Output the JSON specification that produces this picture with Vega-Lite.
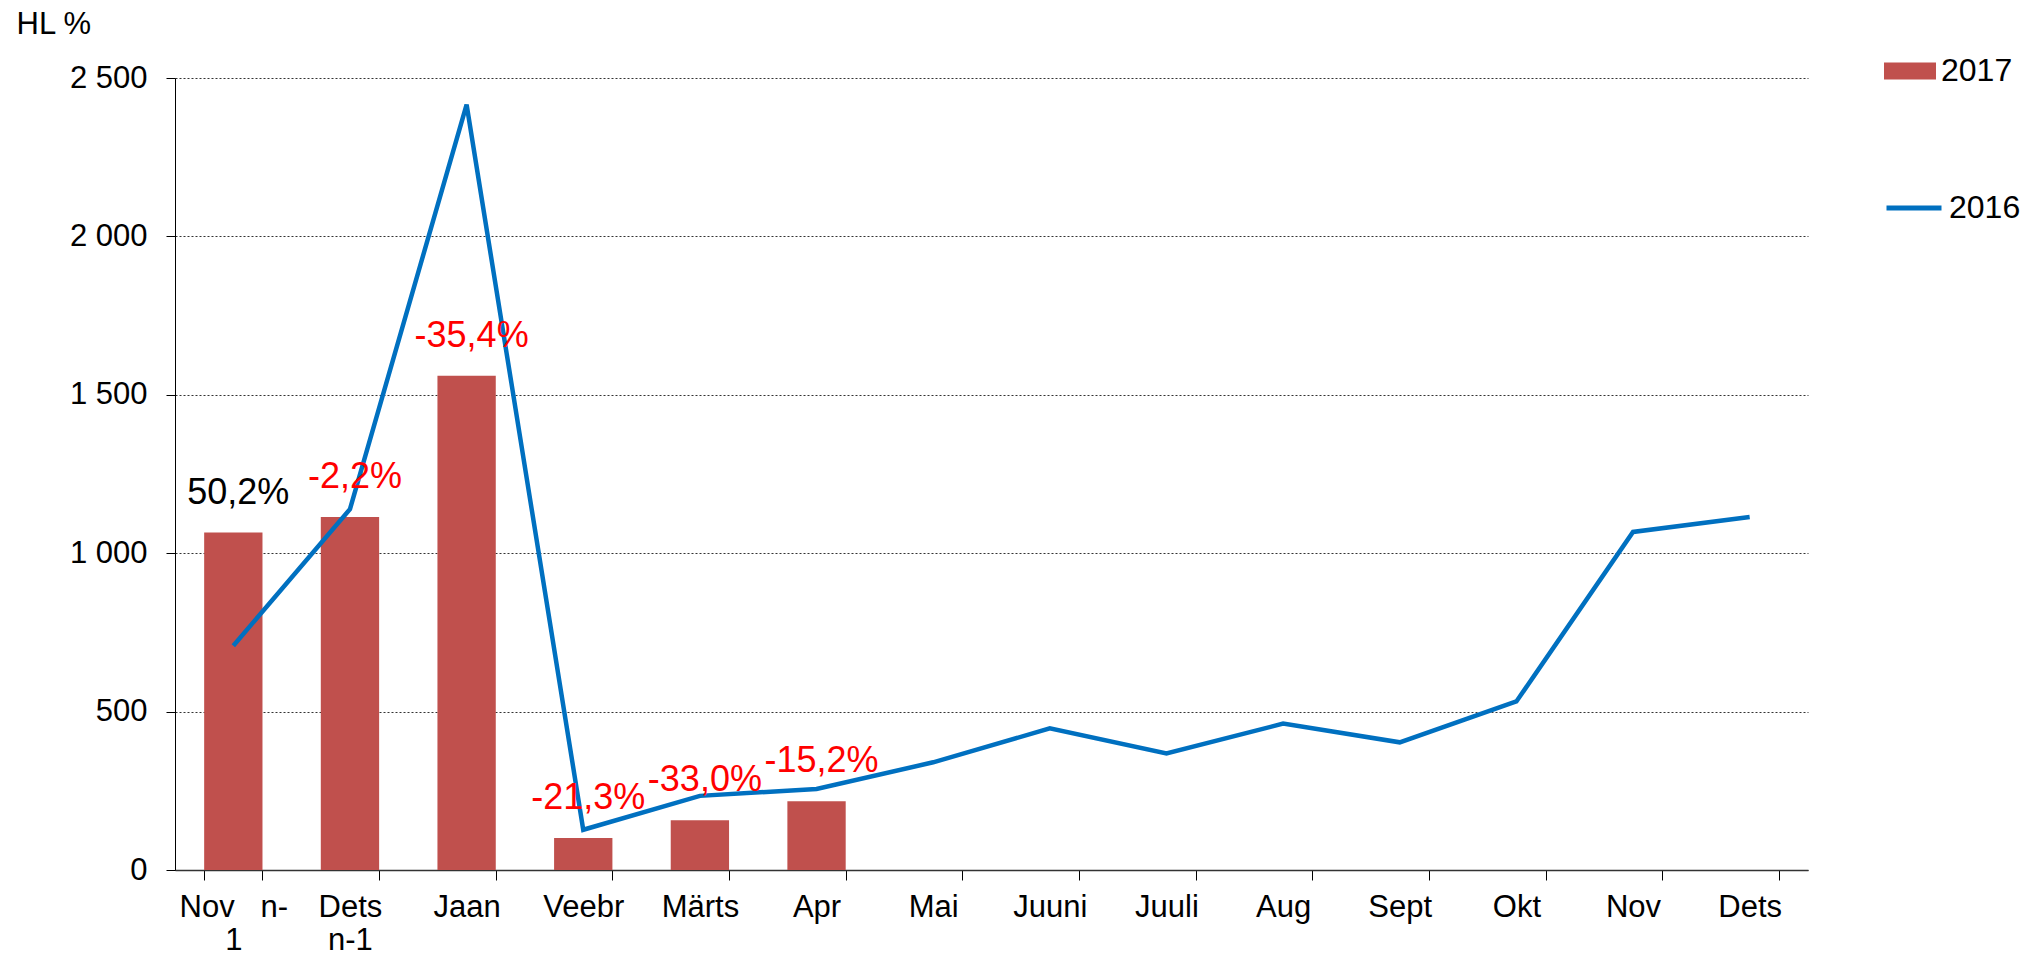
{
  "$schema": "https://vega.github.io/schema/vega-lite/v6.json",
  "width": 1633,
  "height": 792,
  "autosize": {"type": "none"},
  "padding": {"left": 175, "top": 78, "right": 223, "bottom": 88},
  "background": "white",
  "config": {
    "font": "Liberation Sans",
    "view": {"stroke": null},
    "axis": {"labelFont": "Liberation Sans", "titleFont": "Liberation Sans", "labelColor": "#000", "titleColor": "#000"},
    "legend": {"labelFont": "Liberation Sans", "labelColor": "#000"}
  },
  "data": {
    "values": [
      {"month": "Nov n-1", "v2016": 708, "v2017": 1065, "label": "50,2%"},
      {"month": "Dets n-1", "v2016": 1139, "v2017": 1114, "label": "-2,2%"},
      {"month": "Jaan", "v2016": 2416, "v2017": 1560, "label": "-35,4%"},
      {"month": "Veebr", "v2016": 127, "v2017": 101, "label": "-21,3%"},
      {"month": "Märts", "v2016": 234, "v2017": 157, "label": "-33,0%"},
      {"month": "Apr", "v2016": 256, "v2017": 217, "label": "-15,2%"},
      {"month": "Mai", "v2016": 340, "v2017": null, "label": null},
      {"month": "Juuni", "v2016": 447, "v2017": null, "label": null},
      {"month": "Juuli", "v2016": 368, "v2017": null, "label": null},
      {"month": "Aug", "v2016": 462, "v2017": null, "label": null},
      {"month": "Sept", "v2016": 403, "v2017": null, "label": null},
      {"month": "Okt", "v2016": 532, "v2017": null, "label": null},
      {"month": "Nov", "v2016": 1067, "v2017": null, "label": null},
      {"month": "Dets", "v2016": 1114, "v2017": null, "label": null}
    ]
  },
  "encoding": {
    "x": {
      "field": "month",
      "type": "nominal",
      "sort": null,
      "scale": {
        "domain": ["Nov n-1", "Dets n-1", "Jaan", "Veebr", "Märts", "Apr", "Mai", "Juuni", "Juuli", "Aug", "Sept", "Okt", "Nov", "Dets"],
        "paddingInner": 0.5,
        "paddingOuter": 0.25
      },
      "axis": {
        "title": null,
        "labelAngle": 0,
        "labelFontSize": 31,
        "labelPadding": 12,
        "labelLineHeight": 33,
        "tickSize": 10,
        "tickColor": "#000",
        "tickBand": "extent",
        "domainColor": "#333",
        "domainWidth": 1.5,
        "grid": false,
        "labelExpr": "datum.value == 'Nov n-1' ? ['Nov\u00a0\u00a0\u00a0n-', '1'] : datum.value == 'Dets n-1' ? ['Dets', 'n-1'] : datum.value"
      }
    }
  },
  "layer": [
    {
      "transform": [{"filter": "isValid(datum.v2017)"}],
      "mark": {"type": "bar", "color": "#C0504D"},
      "encoding": {
        "y": {
          "field": "v2017",
          "type": "quantitative",
          "title": "HL %",
          "scale": {"domain": [0, 2500], "nice": false},
          "axis": {
            "values": [0, 500, 1000, 1500, 2000, 2500],
            "labelExpr": "replace(format(datum.value, ','), ',', ' ')",
            "labelFontSize": 31,
            "labelPadding": 19,
            "tickSize": 9,
            "tickColor": "#000",
            "domainColor": "#000",
            "grid": true,
            "gridDash": [2, 2],
            "gridColor": "#333",
            "gridWidth": 1,
            "titleAngle": 0,
            "titleAlign": "left",
            "titleBaseline": "alphabetic",
            "titleX": -159,
            "titleY": -45,
            "titleFontSize": 31,
            "titleFontWeight": "normal"
          }
        },
        "color": {
          "datum": "2017",
          "type": "nominal",
          "scale": {"range": ["#C0504D"]},
          "legend": {
            "orient": "none",
            "legendX": 1709,
            "legendY": -33,
            "title": null,
            "padding": 0,
            "symbolType": "M-1,-0.33H1V0.33H-1Z",
            "symbolSize": 2704,
            "symbolStrokeWidth": 0,
            "symbolOpacity": 1,
            "labelFontSize": 32,
            "labelOffset": 5
          }
        }
      }
    },
    {
      "mark": {"type": "line", "strokeWidth": 4.5, "color": "#0070C0"},
      "encoding": {
        "y": {"field": "v2016", "type": "quantitative", "title": "HL %"},
        "color": {
          "datum": "2016",
          "type": "nominal",
          "scale": {"range": ["#0070C0"]},
          "legend": {
            "orient": "none",
            "legendX": 1709,
            "legendY": 100,
            "title": null,
            "padding": 0,
            "symbolType": "stroke",
            "symbolSize": 3025,
            "symbolStrokeWidth": 5,
            "labelFontSize": 32,
            "labelOffset": 5
          }
        }
      }
    },
    {
      "transform": [{"filter": "isValid(datum.label)"}],
      "mark": {"type": "text", "fontSize": 36, "baseline": "alphabetic", "dy": -29, "dx": 5},
      "encoding": {
        "y": {"field": "v2017", "type": "quantitative", "title": "HL %"},
        "text": {"field": "label"},
        "color": {
          "condition": {"test": "indexof(datum.label, '-') == 0", "value": "#FF0000"},
          "value": "#000000"
        }
      }
    }
  ],
  "resolve": {"scale": {"color": "independent"}}
}
